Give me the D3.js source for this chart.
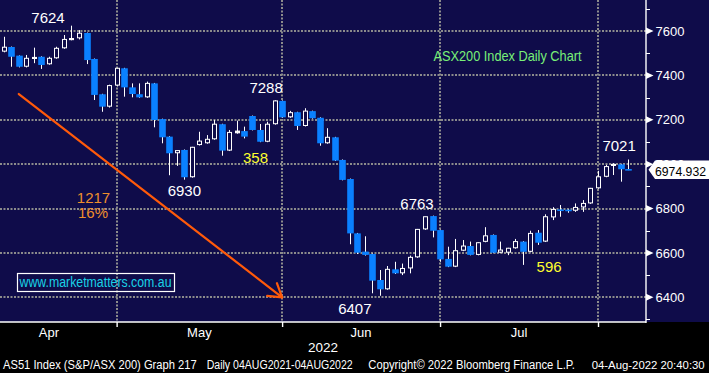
<!DOCTYPE html>
<html>
<head>
<meta charset="utf-8">
<script src="https://cdn.jsdelivr.net/npm/d3@7"></script>
<style>
  html, body { margin: 0; padding: 0; background: #000; }
  svg { display: block; }
</style>
</head>
<body>
<div id="chart"></div>
<script>
// ---- data (ASX200 daily) ----
// trading days before the visible window, only used to place the Mar/Apr boundary
const preDays = ['2022-03-31', '2022-04-01', '2022-04-04']

const dates = [
  '2022-04-05','2022-04-06','2022-04-07','2022-04-08','2022-04-11','2022-04-12','2022-04-13','2022-04-14',
  '2022-04-19','2022-04-20','2022-04-21','2022-04-22','2022-04-26','2022-04-27','2022-04-28','2022-04-29',
  '2022-05-02','2022-05-03','2022-05-04','2022-05-05','2022-05-06','2022-05-09','2022-05-10','2022-05-11',
  '2022-05-12','2022-05-13','2022-05-16','2022-05-17','2022-05-18','2022-05-19','2022-05-20','2022-05-23',
  '2022-05-24','2022-05-25','2022-05-26','2022-05-27','2022-05-30','2022-05-31',
  '2022-06-01','2022-06-02','2022-06-03','2022-06-06','2022-06-07','2022-06-08','2022-06-09','2022-06-10',
  '2022-06-14','2022-06-15','2022-06-16','2022-06-17','2022-06-20','2022-06-21','2022-06-22','2022-06-23',
  '2022-06-24','2022-06-27','2022-06-28','2022-06-29','2022-06-30',
  '2022-07-01','2022-07-04','2022-07-05','2022-07-06','2022-07-07','2022-07-08','2022-07-11','2022-07-12',
  '2022-07-13','2022-07-14','2022-07-15','2022-07-18','2022-07-19','2022-07-20','2022-07-21','2022-07-22',
  '2022-07-25','2022-07-26','2022-07-27','2022-07-28','2022-07-29',
  '2022-08-01','2022-08-02','2022-08-03','2022-08-04',
]

const open = [
  7507,7528,7489,7439,7478,7484,7450,7477,7522,7563,7567,7591,7474,7315,7259,7354,
  7432,7346,7315,7301,7364,7203,7124,7049,7064,6941,7086,7094,7112,7180,7061,7139,7149,7217,7154,7101,7180,7285,
  7211,7234,7172,7239,7209,7094,7121,7019,6933,6688,6606,6595,6478,6436,6526,6508,6530,6580,6706,6766,6703,
  6573,6538,6610,6631,6591,6650,6681,6601,6601,6621,6651,6605,6691,6651,6760,6796,6795,6790,6805,6823,6891,
  6943,6992,6999,6978,
]
const high = [
  7574,7530,7490,7492,7525,7486,7484,7529,7582,7624,7604,7593,7476,7317,7358,7434,
  7434,7364,7364,7372,7366,7205,7126,7063,7066,7078,7146,7131,7199,7182,7154,7196,7169,7219,7181,7191,7288,7287,
  7240,7236,7252,7241,7211,7162,7123,7021,6935,6690,6675,6597,6523,6541,6560,6552,6588,6708,6763,6768,6705,
  6628,6663,6658,6651,6648,6716,6683,6651,6623,6663,6653,6700,6703,6774,6806,6816,6797,6823,6838,6893,6970,
  6997,7004,7001,7021,
]
const low = [
  7504,7439,7436,7436,7455,7429,7448,7475,7520,7558,7562,7451,7289,7236,7255,7350,
  7304,7301,7299,7299,7166,7094,6950,6992,6930,6939,7084,7092,7110,7038,7059,7137,7116,7152,7099,7099,7178,7209,
  7209,7154,7170,7205,7083,7092,7014,6927,6639,6595,6588,6418,6407,6434,6505,6500,6508,6578,6704,6670,6560,
  6536,6536,6608,6589,6589,6648,6599,6599,6590,6619,6546,6603,6636,6649,6748,6763,6781,6785,6785,6821,6889,
  6941,6951,6921,6973,
]
const close = [
  7527,7484,7439,7477,7481,7447,7477,7522,7562,7566,7590,7469,7312,7259,7354,7432,
  7346,7316,7301,7364,7199,7121,7049,7061,6941,7076,7104,7112,7180,7061,7143,7149,7124,7154,7101,7180,7285,7211,
  7232,7172,7239,7207,7094,7121,7016,6929,6688,6601,6591,6475,6436,6526,6508,6530,6580,6706,6763,6700,6571,
  6538,6610,6631,6591,6646,6677,6601,6613,6621,6651,6605,6688,6646,6763,6796,6790,6788,6805,6823,6891,6943,
  6989,6999,6977,6975,
]

const yTicks = [6400, 6600, 6800, 7000, 7200, 7400, 7600]
const yMinorTicks = [6300, 6500, 6700, 6900, 7100, 7300, 7500, 7700]
const monthNames = ['Jan','Feb','Mar','Apr','May','Jun','Jul','Aug','Sep','Oct','Nov','Dec']
const yearLabel = '2022'
const lastPrice = 6974.932

// peak / trough labels: candle date + price
const peakDates = ['2022-04-20', '2022-05-30', '2022-05-12', '2022-06-28', '2022-06-20', '2022-08-04']
const peakValues = [7624, 7288, 6930, 6763, 6407, 7021]

// move labels (text, colour group) placed on trading-day index / price level
const moveText = ['358', '1217', '16%', '596']
const moveKind = ['yellow', 'orange', 'orange', 'yellow']
const moveIdx = [36.47, 14.93, 14.86, 75.5]
const moveLevel = [7004, 6826, 6756, 6513]

// trend arrow: from (date, price) to (date, price)
const arrowFrom = ['2022-04-07', 7316]
const arrowTo = ['2022-05-31', 6400]

// ---- layout ----
const W = 709
const H = 373
const PLOT_RIGHT = 646
const PLOT_BOTTOM = 322
const NAVY = '#0f0c4a'
const BLUE = '#0a80ff'
const GRID = '#8c8c8c'
const NARROW = '"Liberation Sans Narrow", "Arial Narrow", "Liberation Sans", Arial, sans-serif'
const SANS = '"Liberation Sans", Arial, sans-serif'

const allDays = preDays.concat(dates)
const dayIndex = d => allDays.indexOf(d)

const xScale = d3.scaleLinear().domain([3, 86]).range([3.8, 628.1])
const yScale = d3.scaleLinear().domain([6400, 7600]).range([297.3, 31])

const svg = d3.select('#chart').append('svg').attr('width', W).attr('height', H)

svg.append('rect').attr('width', W).attr('height', H).attr('fill', '#000')
svg.append('rect').attr('width', W).attr('height', PLOT_BOTTOM).attr('fill', NAVY)

// month boundaries = last trading day of each month
const monthEnds = allDays
  .map((d, i) => ({ d, i }))
  .filter(({ d, i }) => i < allDays.length - 1 && d.slice(5, 7) !== allDays[i + 1].slice(5, 7))
  .map(e => e.i)

// ---- grid ----
const grid = svg.append('g').attr('id', 'grid')
grid.selectAll('line.h')
  .data(yTicks)
  .join('line')
  .attr('class', 'h')
  .attr('x1', 0).attr('x2', PLOT_RIGHT)
  .attr('y1', d => Math.round(yScale(d))).attr('y2', d => Math.round(yScale(d)))
  .attr('stroke', GRID).attr('stroke-width', 2).attr('stroke-dasharray', '2,1.5')
grid.selectAll('line.v')
  .data(monthEnds)
  .join('line')
  .attr('class', 'v')
  .attr('x1', d => Math.round(xScale(d))).attr('x2', d => Math.round(xScale(d)))
  .attr('y1', 0).attr('y2', PLOT_BOTTOM)
  .attr('stroke', GRID).attr('stroke-width', 2).attr('stroke-dasharray', '2,1.5')

// ---- trend arrow ----
const ax1 = xScale(dayIndex(arrowFrom[0])), ay1 = yScale(arrowFrom[1])
const ax2 = xScale(dayIndex(arrowTo[0])), ay2 = yScale(arrowTo[1])
const ang = Math.atan2(ay1 - ay2, ax1 - ax2)
const barb = 15
const spread = 32 * Math.PI / 180
const arrow = svg.append('g').attr('id', 'arrow')
  .attr('stroke', '#ff5a0a').attr('stroke-width', 2.2).attr('stroke-linecap', 'round').attr('fill', 'none')
arrow.append('line').attr('x1', ax1).attr('y1', ay1).attr('x2', ax2).attr('y2', ay2)
arrow.selectAll('line.barb')
  .data([ang - spread, ang + spread])
  .join('line')
  .attr('class', 'barb')
  .attr('x1', ax2).attr('y1', ay2)
  .attr('x2', a => ax2 + barb * Math.cos(a))
  .attr('y2', a => ay2 + barb * Math.sin(a))

// ---- candles ----
const candles = dates.map((d, i) => ({
  idx: i + preDays.length, o: open[i], h: high[i], l: low[i], c: close[i],
}))
const cx = d => Math.round(xScale(d.idx)) + 0.5

const content = svg.append('g').attr('id', 'candles')
content.selectAll('line.wick')
  .data(candles)
  .join('line')
  .attr('class', 'wick')
  .attr('x1', cx).attr('x2', cx)
  .attr('y1', d => yScale(d.h)).attr('y2', d => yScale(d.l))
  .attr('stroke', '#fff').attr('stroke-width', 1)

const bodyTop = d => yScale(Math.max(d.o, d.c))
const bodyH = d => Math.max(1.6, Math.abs(yScale(d.o) - yScale(d.c)))

content.selectAll('rect.down')
  .data(candles.filter(d => d.c < d.o))
  .join('rect')
  .attr('class', 'down')
  .attr('x', d => cx(d) - 3.3).attr('width', 6.6)
  .attr('y', bodyTop).attr('height', bodyH)
  .attr('fill', BLUE)

content.selectAll('rect.up')
  .data(candles.filter(d => d.c >= d.o))
  .join('rect')
  .attr('class', 'up')
  .attr('x', d => cx(d) - 2).attr('width', 4)
  .attr('y', bodyTop).attr('height', d => Math.max(0.6, bodyH(d) - 0.5))
  .attr('fill', d => bodyH(d) < 2.5 ? '#fff' : NAVY)
  .attr('stroke', '#fff').attr('stroke-width', 1)

// ---- labels ----
const peakOffsets = [[-23.5, -2.7], [-8.5, -7], [0, 16.3], [-8, -7.4], [-25, 18.3], [-9, -8.8]]
svg.append('g').attr('id', 'peaks')
  .selectAll('text')
  .data(peakValues)
  .join('text')
  .attr('x', (v, i) => xScale(dayIndex(peakDates[i])) + peakOffsets[i][0])
  .attr('y', (v, i) => yScale(v) + peakOffsets[i][1])
  .attr('text-anchor', 'middle')
  .attr('fill', '#fff')
  .style('font', `15px ${NARROW}`)
  .text(v => v)

const moveColor = { yellow: '#ffff2e', orange: '#ee8f2c' }
svg.append('g').attr('id', 'moves')
  .selectAll('text')
  .data(moveText)
  .join('text')
  .attr('x', (t, i) => xScale(moveIdx[i]))
  .attr('y', (t, i) => yScale(moveLevel[i]))
  .attr('text-anchor', 'middle')
  .attr('fill', (t, i) => moveColor[moveKind[i]])
  .style('font', `15px ${NARROW}`)
  .text(t => t)

svg.append('text')
  .attr('x', 433.5).attr('y', 61)
  .attr('fill', '#78f078')
  .attr('textLength', 148).attr('lengthAdjust', 'spacingAndGlyphs')
  .style('font', `14.5px ${SANS}`)
  .text('ASX200 Index Daily Chart')

svg.append('rect')
  .attr('x', 17.5).attr('y', 273.5).attr('width', 157).attr('height', 18)
  .attr('fill', 'none').attr('stroke', '#fff').attr('stroke-width', 1.2)
svg.append('text')
  .attr('x', 19.5).attr('y', 287)
  .attr('fill', '#1ad2e6')
  .attr('textLength', 152).attr('lengthAdjust', 'spacingAndGlyphs')
  .style('font', `14px ${SANS}`)
  .text('www.marketmatters.com.au')

// ---- axes ----
svg.append('g')
  .attr('transform', `translate(${PLOT_RIGHT},0)`)
  .attr('color', '#fff')
  .call(d3.axisRight(yScale).tickValues(yTicks).tickSize(0).tickPadding(9.5).tickFormat(d3.format('d')))
  .call(g => g.select('.domain').remove())
  .call(g => g.selectAll('text').attr('fill', '#fff').style('font', `13px ${SANS}`))

const axisG = svg.append('g').attr('id', 'axis-marks')
axisG.selectAll('path.tri')
  .data(yTicks)
  .join('path')
  .attr('class', 'tri')
  .attr('d', d => {
    const y = yScale(d)
    return `M${PLOT_RIGHT},${y - 3.5}L${PLOT_RIGHT + 7.5},${y}L${PLOT_RIGHT},${y + 3.5}Z`
  })
  .attr('fill', '#fff')
axisG.selectAll('line.minor')
  .data(yMinorTicks)
  .join('line')
  .attr('class', 'minor')
  .attr('x1', PLOT_RIGHT).attr('x2', PLOT_RIGHT + 4)
  .attr('y1', d => Math.round(yScale(d)) + 0.5).attr('y2', d => Math.round(yScale(d)) + 0.5)
  .attr('stroke', '#fff').attr('stroke-width', 1)
axisG.append('line')
  .attr('x1', PLOT_RIGHT).attr('x2', PLOT_RIGHT).attr('y1', 0).attr('y2', PLOT_BOTTOM + 1)
  .attr('stroke', '#fff').attr('stroke-width', 1.4)

svg.append('g')
  .attr('transform', `translate(0,${PLOT_BOTTOM})`)
  .attr('color', '#fff')
  .call(d3.axisBottom(xScale).tickValues(monthEnds).tickSize(5).tickFormat(''))
  .call(g => g.select('.domain').remove())
  .call(g => g.selectAll('.tick line').attr('stroke-width', 1.4))
axisG.append('line')
  .attr('x1', 0).attr('x2', PLOT_RIGHT).attr('y1', PLOT_BOTTOM).attr('y2', PLOT_BOTTOM)
  .attr('stroke', '#fff').attr('stroke-width', 1.6)

// month names centred between boundaries
const monthMids = monthEnds.slice(0, -1).map((m, i) => ({
  x: (xScale(m) + xScale(monthEnds[i + 1])) / 2,
  name: monthNames[+allDays[monthEnds[i + 1]].slice(5, 7) - 1],
}))
svg.append('g').attr('id', 'months')
  .selectAll('text')
  .data(monthMids)
  .join('text')
  .attr('x', d => d.x).attr('y', 336.7)
  .attr('text-anchor', 'middle')
  .attr('fill', '#fff')
  .style('font', `13px ${SANS}`)
  .text(d => d.name)
// year label sits a little left of the June label
const junMid = monthMids.find(m => m.name === 'Jun').x
svg.append('text')
  .attr('x', junMid - 38).attr('y', 352.3)
  .attr('text-anchor', 'middle').attr('fill', '#fff')
  .style('font', `13.5px ${SANS}`)
  .text(yearLabel)

// last price tag (covers the 7000 label like the original)
const tagY = yScale(lastPrice)
svg.append('path')
  .attr('d', `M${PLOT_RIGHT + 2.5},${tagY}L${PLOT_RIGHT + 9},${tagY - 9.2}L${W},${tagY - 9.2}L${W},${tagY + 9.2}L${PLOT_RIGHT + 9},${tagY + 9.2}Z`)
  .attr('fill', '#fff')
svg.append('text')
  .attr('x', 655).attr('y', tagY + 5.8)
  .attr('fill', '#000')
  .attr('textLength', 51).attr('lengthAdjust', 'spacingAndGlyphs')
  .style('font', `13px ${SANS}`)
  .text(d3.format('.3f')(lastPrice))

// footer
const footer = [
  ['AS51 Index (S&P/ASX 200) Graph 217', 3, 193.7, 12],
  ['Daily 04AUG2021-04AUG2022', 206.7, 146, 12],
  ['Copyright\u00a9 2022 Bloomberg Finance L.P.', 368.3, 206.7, 12],
  ['04-Aug-2022 20:40:30', 591.7, 113, 11.2],
]
svg.append('g').attr('id', 'footer')
  .selectAll('text')
  .data(footer)
  .join('text')
  .attr('x', d => d[1]).attr('y', 369.3)
  .attr('textLength', d => d[2]).attr('lengthAdjust', 'spacingAndGlyphs')
  .attr('fill', '#fff')
  .style('font', d => `${d[3]}px ${SANS}`)
  .text(d => d[0])
</script>
</body>
</html>
